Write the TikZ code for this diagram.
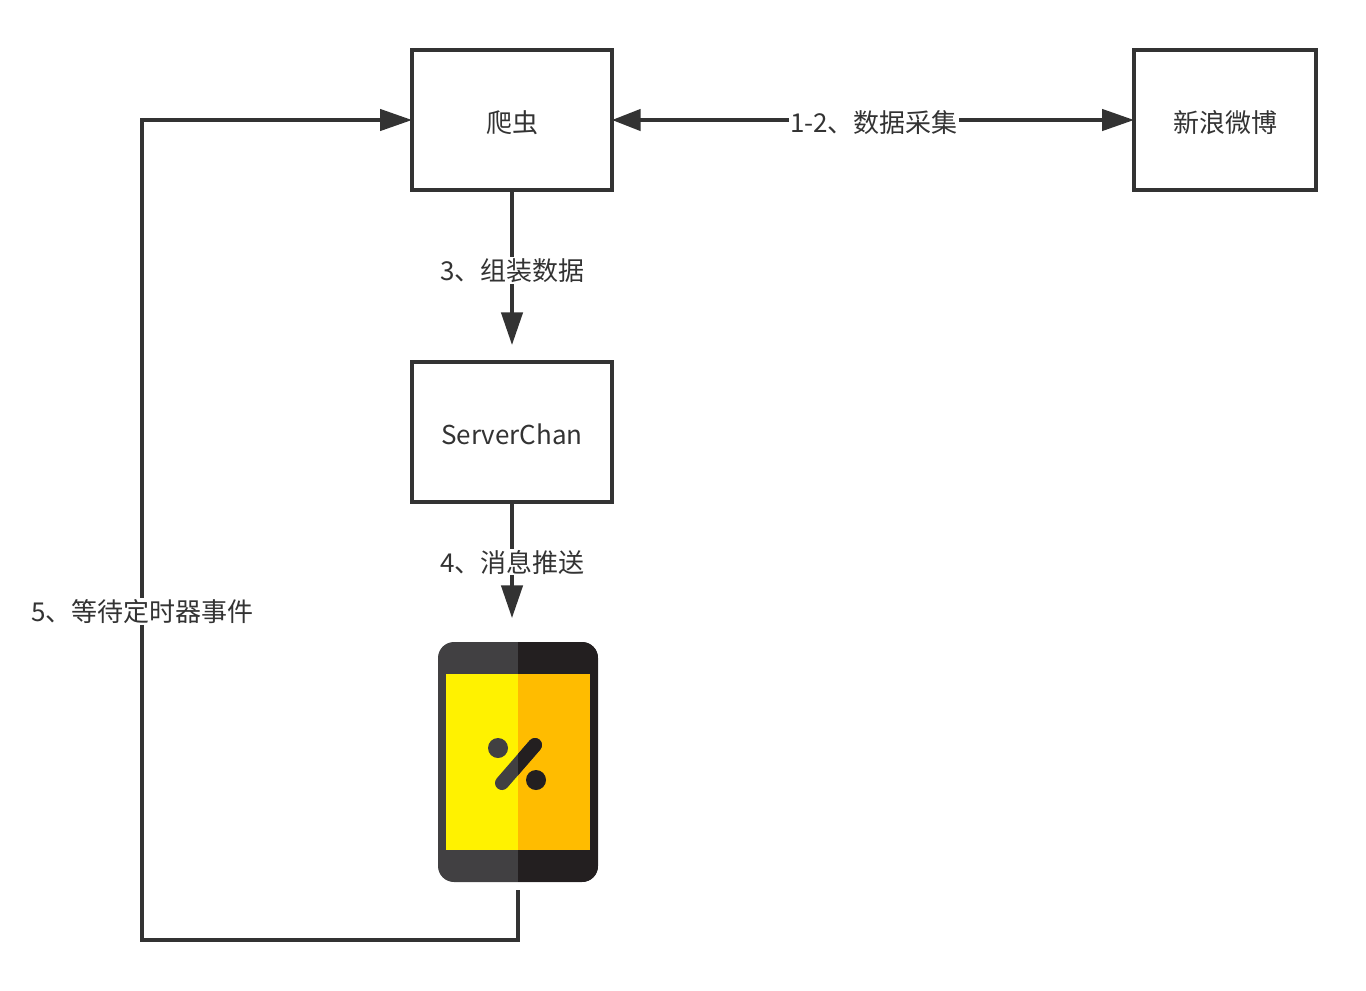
\documentclass[tikz,border=0pt]{standalone}
\usepackage{fontspec}
\setmainfont{Noto Sans CJK SC}
\usetikzlibrary{arrows.meta}
\definecolor{inkgray}{RGB}{51,51,51}
\definecolor{phonelight}{RGB}{65,64,66}
\definecolor{phonedark}{RGB}{35,31,32}
\definecolor{screenyellow}{RGB}{255,242,0}
\definecolor{screenamber}{RGB}{255,188,0}
\tikzset{every picture/.style={line width=0.75pt},
  stepbox/.style={draw=inkgray,line width=2.6pt,outer sep=0pt,inner sep=0pt,text=inkgray,text height=19pt,text depth=0pt,font=\fontsize{19.5}{24}\selectfont},
  flowline/.style={draw=inkgray,line width=2.6pt},
  flowtip/.style={-{Triangle[length=24.5pt,width=16pt,inset=0pt]}},
  flowlabel/.style={fill=white,inner xsep=1pt,inner ysep=1pt,text=inkgray,font=\fontsize{19.5}{24}\selectfont}
}

\begin{document}
\begin{tikzpicture}[x=0.75pt,y=0.75pt,yscale=-1,xscale=1]
\useasboundingbox (0,0) rectangle (1366,990);

% Boxes
\node [stepbox,minimum width=150pt,minimum height=105pt] (crawler) at (512,120) {爬虫};
\node [stepbox,minimum width=136.5pt,minimum height=105pt] (weibo) at (1225,120) {新浪微博};
\node [stepbox,minimum width=150pt,minimum height=105pt] (serverchan) at (512,432) {ServerChan};

% Phone
\node [fill=phonelight,rounded corners=12pt,outer sep=0pt,inner sep=0pt,minimum width=120pt,minimum height=180pt,
  path picture={\fill [phonedark,sharp corners] (path picture bounding box.north) rectangle (path picture bounding box.south east);}] (phone) at (518,762) {};
\fill [screenyellow] (446,674) rectangle (518,850);
\fill [screenamber] (518,674) rectangle (590,850);
\fill [phonelight] (498,748) circle (10);
\draw [phonelight,line width=10.5pt,line cap=round] (535,745) -- (502,783);
\begin{scope}
\clip (518,730) rectangle (560,800);
\draw [phonedark,line width=10.5pt,line cap=round] (535,745) -- (502,783);
\fill [phonedark] (536,780) circle (10);
\end{scope}

% Free ends
\coordinate (serverchanin) at (512,345);
\coordinate (phonein) at (512,618);
\coordinate (phoneout) at (518,890);
\coordinate (bendright) at (518,940);
\coordinate (bendleft) at (142,940);
\coordinate (bendtop) at (142,120);

% Connectors
\draw [flowline,{Triangle[length=21.5pt,width=16pt,inset=0pt]}-{Triangle[length=24pt,width=16pt,inset=0pt]}] (crawler) -- (weibo);
\draw [flowline,flowtip] (crawler) -- (serverchanin);
\draw [flowline,flowtip] (serverchan) -- (phonein);
\draw [flowline,-{Triangle[length=24pt,width=16pt,inset=0pt]},line join=miter] (phoneout) -- (bendright) -- (bendleft) -- (bendtop) -- (crawler);

% Text Node
\node [flowlabel] (labelcollect) at (874,122.5) {1-2、数据采集};
% Text Node
\node [flowlabel] (labelbuild) at (512.5,270.5) {3、组装数据};
% Text Node
\node [flowlabel] (labelpush) at (512.5,562) {4、消息推送};
% Text Node
\node [flowlabel] (labelwait) at (142.5,611.5) {5、等待定时器事件};

\end{tikzpicture}
\end{document}
